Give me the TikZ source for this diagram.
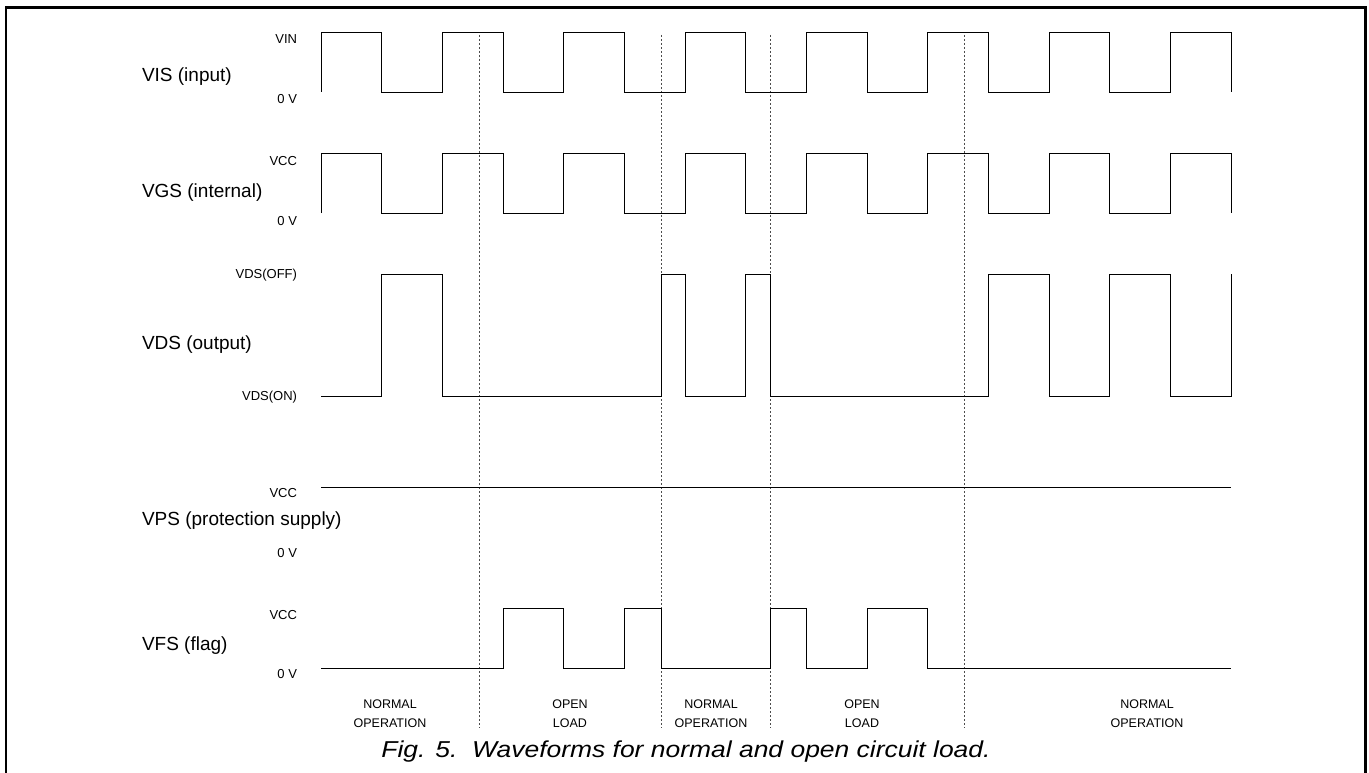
\documentclass[tikz,border=0pt]{standalone}
\usepackage{fontspec}
\usepackage{graphicx}
\setmainfont{Liberation Sans}

\begin{document}
\begin{tikzpicture}[x=1pt,y=-1pt,every node/.append style={inner sep=0pt,outer sep=0pt},
    signame/.style={anchor=west,font=\fontsize{19}{23}\selectfont},
    lvl/.style={anchor=east,font=\fontsize{13}{15}\selectfont},
    phase/.style={align=center,font=\fontsize{12.5}{19}\selectfont},
    wave/.style={line width=0.9pt,line join=miter},
    divider/.style={black!70,line width=1pt,dash pattern=on 2pt off 2pt},
    frame/.style={line width=2.5pt,line join=miter}]
    \useasboundingbox (0,0) rectangle (1369,773);
    \def\hp{60.67}

    % frame (open at the bottom)
    \draw[frame] (6,773) -- (6,7.5) -- (1365.5,7.5) -- (1365.5,773);

    % phase boundaries
    \foreach \x in {479,661,770,964}
        \draw[divider] (\x,35) -- (\x,728);

    % signal names
    \node [signame] (VIS) at (142,77)  {VIS (input)};
    \node [signame] (VGS) at (142,193) {VGS (internal)};
    \node [signame] (VDS) at (142,345) {VDS (output)};
    \node [signame] (VPS) at (142,521) {VPS (protection supply)};
    \node [signame] (VFS) at (142,646) {VFS (flag)};

    % levels
    \node [lvl] (VIShi) at (297,39)  {VIN};
    \node [lvl] (VISlo) at (297,99)  {0 V};
    \node [lvl] (VGShi) at (297,161) {VCC};
    \node [lvl] (VGSlo) at (297,221) {0 V};
    \node [lvl] (VDShi) at (297,275) {VDS(OFF)};
    \node [lvl] (VDSlo) at (297,397) {VDS(ON)};
    \node [lvl] (VPShi) at (297,493) {VCC};
    \node [lvl] (VPSlo) at (297,553) {0 V};
    \node [lvl] (VFShi) at (297,615) {VCC};
    \node [lvl] (VFSlo) at (297,674) {0 V};

    % waveforms
    \draw[wave] (321,92) -- ++(0,-60) \foreach \k in {1,...,7}{ -- ++(\hp,0) -- ++(0,60) -- ++(\hp,0) -- ++(0,-60)} -- ++(\hp,0) -- ++(0,60);
    \draw[wave] (321,213) -- ++(0,-60) \foreach \k in {1,...,7}{ -- ++(\hp,0) -- ++(0,60) -- ++(\hp,0) -- ++(0,-60)} -- ++(\hp,0) -- ++(0,60);
    \draw[wave] (321,396) -- (381.7,396) -- (381.7,274) -- (442.3,274) -- (442.3,396) -- (661,396) -- (661,274)
        -- (685,274) -- (685,396) -- (745.7,396) -- (745.7,274) -- (770,274) -- (770,396) -- (988.4,396)
        -- (988.4,274) -- (1049,274) -- (1049,396) -- (1109.7,396) -- (1109.7,274) -- (1170.4,274)
        -- (1170.4,396) -- (1231,396) -- (1231,274);
    \draw[wave] (321,487) -- (1231,487);
    \draw[wave] (321,668) -- (503,668) -- (503,608) -- (563.7,608) -- (563.7,668) -- (624.3,668) -- (624.3,608)
        -- (661,608) -- (661,668) -- (770,668) -- (770,608) -- (806.4,608) -- (806.4,668) -- (867,668)
        -- (867,608) -- (927.7,608) -- (927.7,668) -- (1231,668);

    % operating modes
    \node [phase] (N1) at (390,713.5)  {NORMAL\\OPERATION};
    \node [phase] (O1) at (570,713.5)  {OPEN\\LOAD};
    \node [phase] (N2) at (711,713.5)  {NORMAL\\OPERATION};
    \node [phase] (O2) at (862,713.5)  {OPEN\\LOAD};
    \node [phase] (N3) at (1147,713.5) {NORMAL\\OPERATION};

    \node [anchor=base,font=\fontsize{23}{27}\selectfont\itshape] (cap) at (686,757)
        {\scalebox{1.15}[1]{Fig. 5.\ \ Waveforms for normal and open circuit load.}};
\end{tikzpicture}
\end{document}
